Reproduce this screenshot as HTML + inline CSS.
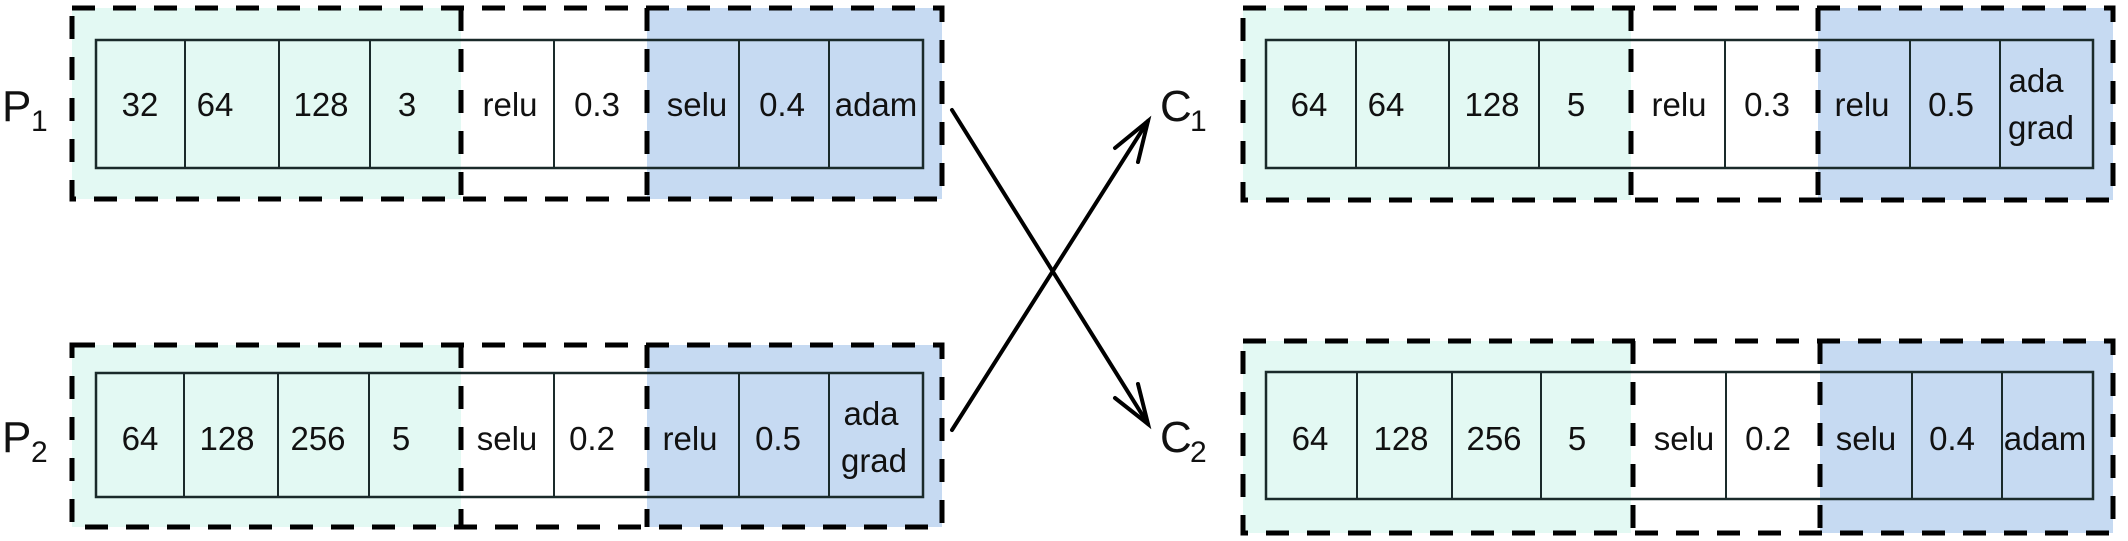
<!DOCTYPE html>
<html><head><meta charset="utf-8"><style>
html,body{margin:0;padding:0;background:#fff;}
svg{display:block;}
text{font-family:"Liberation Sans",Arial,sans-serif;fill:#111;}
</style></head><body>
<svg width="2128" height="541" viewBox="0 0 2128 541" xmlns="http://www.w3.org/2000/svg">
<defs>
<g id="x"></g>
</defs>

<!-- P1 -->
<rect x="72" y="8" width="389" height="191" fill="#e3f9f3"/>
<rect x="647" y="8" width="295" height="191" fill="#c6daf2"/>
<rect x="96" y="40" width="827" height="128" fill="none" stroke="#1a2a2a" stroke-width="2.5"/>
<g stroke="#1a2a2a" stroke-width="2"><line x1="185" y1="40" x2="185" y2="168"/><line x1="279" y1="40" x2="279" y2="168"/><line x1="370" y1="40" x2="370" y2="168"/><line x1="554" y1="40" x2="554" y2="168"/><line x1="739" y1="40" x2="739" y2="168"/><line x1="829" y1="40" x2="829" y2="168"/></g>
<rect x="72" y="8" width="870" height="191" fill="none" stroke="#000" stroke-width="5" stroke-dasharray="23 18"/>
<g stroke="#000" stroke-width="5" stroke-dasharray="23 18"><line x1="461" y1="8" x2="461" y2="199"/><line x1="647" y1="8" x2="647" y2="199"/></g>
<g font-size="33" text-anchor="middle"><text x="140" y="116">32</text><text x="215" y="116">64</text><text x="321" y="116">128</text><text x="407" y="116">3</text><text x="510" y="116">relu</text><text x="597" y="116">0.3</text><text x="697" y="116">selu</text><text x="782" y="116">0.4</text><text x="876" y="116">adam</text></g>
<text x="2" y="121" font-size="44">P</text><text x="31" y="131" font-size="30">1</text>

<!-- P2 -->
<rect x="72" y="345" width="389" height="182" fill="#e3f9f3"/>
<rect x="647" y="345" width="295" height="182" fill="#c6daf2"/>
<rect x="96" y="373" width="827" height="124" fill="none" stroke="#1a2a2a" stroke-width="2.5"/>
<g stroke="#1a2a2a" stroke-width="2"><line x1="184" y1="373" x2="184" y2="497"/><line x1="278" y1="373" x2="278" y2="497"/><line x1="369" y1="373" x2="369" y2="497"/><line x1="554" y1="373" x2="554" y2="497"/><line x1="739" y1="373" x2="739" y2="497"/><line x1="829" y1="373" x2="829" y2="497"/></g>
<rect x="72" y="345" width="870" height="182" fill="none" stroke="#000" stroke-width="5" stroke-dasharray="23 18"/>
<g stroke="#000" stroke-width="5" stroke-dasharray="23 18"><line x1="461" y1="345" x2="461" y2="527"/><line x1="647" y1="345" x2="647" y2="527"/></g>
<g font-size="33" text-anchor="middle"><text x="140" y="450">64</text><text x="227" y="450">128</text><text x="318" y="450">256</text><text x="401" y="450">5</text><text x="507" y="450">selu</text><text x="592" y="450">0.2</text><text x="690" y="450">relu</text><text x="778" y="450">0.5</text><text x="871" y="425">ada</text><text x="874" y="472">grad</text></g>
<text x="2" y="452" font-size="44">P</text><text x="31" y="462" font-size="30">2</text>

<!-- C1 -->
<rect x="1243" y="8" width="388" height="192" fill="#e3f9f3"/>
<rect x="1818" y="8" width="295" height="192" fill="#c6daf2"/>
<rect x="1266" y="40" width="827" height="128" fill="none" stroke="#1a2a2a" stroke-width="2.5"/>
<g stroke="#1a2a2a" stroke-width="2"><line x1="1356" y1="40" x2="1356" y2="168"/><line x1="1449" y1="40" x2="1449" y2="168"/><line x1="1539" y1="40" x2="1539" y2="168"/><line x1="1725" y1="40" x2="1725" y2="168"/><line x1="1910" y1="40" x2="1910" y2="168"/><line x1="2000" y1="40" x2="2000" y2="168"/></g>
<rect x="1243" y="8" width="870" height="192" fill="none" stroke="#000" stroke-width="5" stroke-dasharray="23 18"/>
<g stroke="#000" stroke-width="5" stroke-dasharray="23 18"><line x1="1631" y1="8" x2="1631" y2="200"/><line x1="1818" y1="8" x2="1818" y2="200"/></g>
<g font-size="33" text-anchor="middle"><text x="1309" y="116">64</text><text x="1386" y="116">64</text><text x="1492" y="116">128</text><text x="1576" y="116">5</text><text x="1679" y="116">relu</text><text x="1767" y="116">0.3</text><text x="1862" y="116">relu</text><text x="1951" y="116">0.5</text><text x="2036" y="92">ada</text><text x="2041" y="139">grad</text></g>
<text x="1160" y="121" font-size="44">C</text><text x="1190" y="131" font-size="30">1</text>

<!-- C2 -->
<rect x="1243" y="341" width="388" height="192" fill="#e3f9f3"/>
<rect x="1820" y="341" width="293" height="192" fill="#c6daf2"/>
<rect x="1266" y="372" width="827" height="127" fill="none" stroke="#1a2a2a" stroke-width="2.5"/>
<g stroke="#1a2a2a" stroke-width="2"><line x1="1357" y1="372" x2="1357" y2="499"/><line x1="1452" y1="372" x2="1452" y2="499"/><line x1="1541" y1="372" x2="1541" y2="499"/><line x1="1726" y1="372" x2="1726" y2="499"/><line x1="1912" y1="372" x2="1912" y2="499"/><line x1="2002" y1="372" x2="2002" y2="499"/></g>
<rect x="1243" y="341" width="870" height="192" fill="none" stroke="#000" stroke-width="5" stroke-dasharray="23 18"/>
<g stroke="#000" stroke-width="5" stroke-dasharray="23 18"><line x1="1633" y1="341" x2="1633" y2="533"/><line x1="1820" y1="341" x2="1820" y2="533"/></g>
<g font-size="33" text-anchor="middle"><text x="1310" y="450">64</text><text x="1401" y="450">128</text><text x="1494" y="450">256</text><text x="1577" y="450">5</text><text x="1684" y="450">selu</text><text x="1768" y="450">0.2</text><text x="1866" y="450">selu</text><text x="1952" y="450">0.4</text><text x="2045" y="450">adam</text></g>
<text x="1160" y="452" font-size="44">C</text><text x="1190" y="462" font-size="30">2</text>

<!-- arrows -->
<g stroke="#000" stroke-width="4" fill="none" stroke-linecap="round">
<line x1="952" y1="110" x2="1148" y2="424"/>
<polyline points="1115,398 1148,424 1138,384"/>
<line x1="952" y1="430" x2="1148" y2="121"/>
<polyline points="1115,148 1148,121 1138,162"/>
</g>
</svg>
</body></html>
